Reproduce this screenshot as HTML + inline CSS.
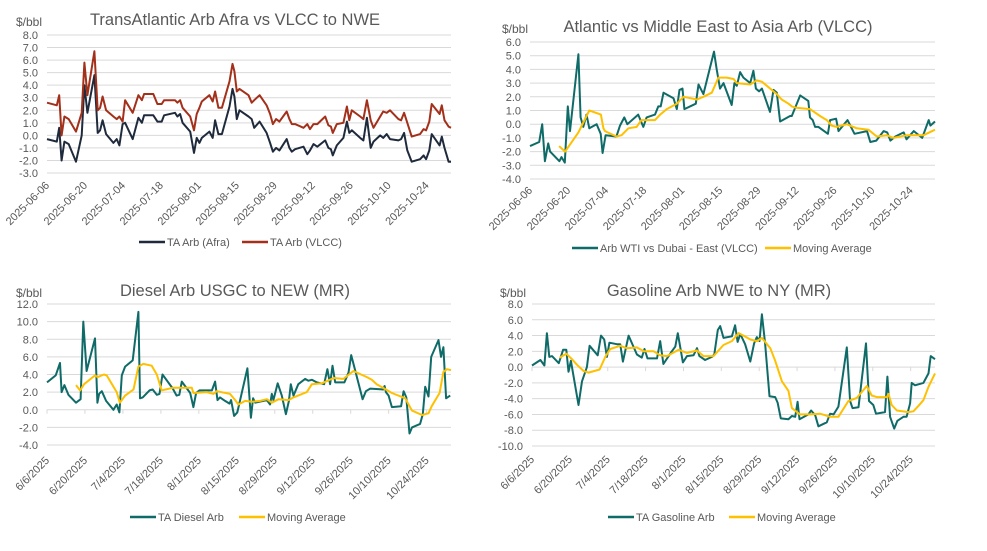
<!DOCTYPE html>
<html><head><meta charset="utf-8">
<style>
html,body{margin:0;padding:0;background:#fff;}
svg{display:block;font-family:"Liberation Sans",sans-serif;}
</style></head>
<body>
<svg id="root" width="987" height="551" viewBox="0 0 987 551"></svg>
<script>
// ---- Chart 1 data ----
const afraDays=[0,3.6,4.5,5.4,6.4,8,10.7,12.8,13.8,14.9,17.5,18.7,19.6,20.5,21.8,24.5,25.7,26.7,27.9,28.8,31.6,33.7,35,35.8,39.2,40.7,42.3,43.2,47.2,48.1,49.1,50,52.8,54.2,55.2,56.2,57.1,59.9,61.1,62,63.2,64.5,67.3,68.4,69.1,70,71,74.3,75.5,76.4,78.4,81,82.3,83.3,84.5,85.7,88.4,89.4,90.3,91.5,94.6,96,97,98.3,99.7,102.6,103.8,104.7,105.4,106.9,109.3,110.6,111.5,112.4,115.5,116.7,118,119.4,120.4,122.9,124,125.3,126.5,129.6,130.6,131.7,132.9,134.5,137.6,138.9,139.8,141,141.9,144.8,145.6,146.6,148.1,149];
const afraVals=[-0.3,-0.5,0.6,-2.0,-0.5,-0.7,-2.1,0.0,4.0,1.8,4.8,0.2,0.4,1.2,0.1,-0.6,-0.3,-0.8,0.9,1.0,-0.3,1.4,1.0,1.6,1.6,1.1,1.1,1.6,1.8,1.5,1.7,1.0,0.3,-1.4,-0.2,-0.6,-0.2,0.3,-0.2,1.2,0.1,0.1,2.3,3.7,3.1,1.3,2.0,1.5,1.3,0.6,1.1,0.2,-0.6,-1.3,-1.0,-1.2,-0.3,-1.0,-1.3,-1.1,-0.9,-1.5,-1.2,-0.7,-0.9,-0.4,-1.0,-1.1,-1.6,-0.8,-0.2,1.1,0.2,0.4,-0.2,-0.4,1.4,-1.0,-0.5,0.0,-0.2,0.1,-0.3,-0.4,-0.3,0.2,-1.2,-2.1,-1.9,-1.6,-1.9,-1.2,0.1,-0.8,-0.1,-1.0,-2.1,-2.1];
const vlccVals=[2.6,2.4,3.2,0.0,1.5,1.3,0.3,1.8,5.8,3.2,6.7,2.0,2.2,3.1,2.0,1.5,1.3,1.5,1.1,2.8,1.8,3.2,2.8,3.3,3.3,2.5,2.5,2.8,2.8,2.6,2.8,2.2,1.5,0.4,1.7,2.2,2.7,3.2,2.7,3.5,2.2,2.2,4.3,5.7,5.1,3.5,3.7,3.2,2.6,2.8,3.2,2.4,1.7,0.9,1.3,1.1,1.9,1.3,0.9,0.9,0.6,0.9,0.5,0.9,0.9,1.5,0.8,0.7,0.2,0.9,1.0,2.3,1.2,2.0,1.5,1.3,2.8,1.2,0.6,1.5,1.9,1.8,2.0,1.3,1.2,1.8,1.0,-0.1,0.1,0.5,0.4,1.1,2.5,1.7,2.4,1.2,0.7,0.6];
const ticks1=["8.0","7.0","6.0","5.0","4.0","3.0","2.0","1.0","0.0","-1.0","-2.0","-3.0"];
const dateLabelsIso=["2025-06-06","2025-06-20","2025-07-04","2025-07-18","2025-08-01","2025-08-15","2025-08-29","2025-09-12","2025-09-26","2025-10-10","2025-10-24"];
// ---- Chart 2 data ----
const wtiDays=[0,3.4,4.5,5.5,6.7,7.4,10.8,11.6,12.8,13.9,14.7,17.8,18.6,19.6,20.8,21.8,24.5,26,26.7,27.8,31.8,33.1,34.7,35.8,39.8,41.7,42.9,46,47.2,48.1,49.1,52.8,54,55,56.1,56.8,61,62,63.8,67.7,68.7,69.9,71.2,74.2,75.2,76.1,77.3,78.5,81,82.2,83.1,84.3,85.3,88.3,89.6,90.8,92,95.7,96.3,99.4,102.4,103,104,104.9,106.1,109.6,110.4,112.6,113.5,116.8,119.4,124,125.2,127.4,130.1,131.4,132.6,134.4,137.5,138.5,141.2,144.3,146.7,147.3,149];
const wtiVals=[-1.6,-1.3,0.0,-2.7,-1.4,-2.0,-2.7,-2.4,-2.8,1.3,-0.5,5.1,0.5,-0.2,0.7,-0.3,0.0,-0.7,-2.1,-0.8,-0.9,-0.1,0.5,0.0,0.7,-0.2,0.5,0.7,1.3,1.3,2.3,1.9,1.1,2.5,2.6,1.1,1.5,2.9,2.2,5.3,4.0,2.6,3.0,1.4,3.0,2.8,3.8,3.4,3.0,3.9,2.6,2.4,2.6,0.9,2.5,2.3,0.2,0.6,0.6,2.1,1.7,0.5,0.3,-0.2,-0.2,-0.7,0.3,0.4,-0.5,0.3,-0.7,-0.5,-1.3,-1.2,-0.5,-0.6,-1.2,-0.9,-0.6,-1.1,-0.5,-1.0,0.3,-0.1,0.2];
const wtiMaDays=[10.7,12.9,17.8,21.8,26.1,27,27.6,31.8,33.7,36.2,39.2,41,46,47.9,50.3,54,56.5,61.4,63.8,66.9,69.3,72.4,74.9,76.1,81,83.4,85.3,90.8,92.6,95.1,96.3,98.1,103,106.7,109.2,111,112.8,116.5,120.2,124.5,127.6,131.3,133.7,138.6,144.8,149];
const wtiMaVals=[-1.6,-2.0,-0.6,1.0,0.7,-0.3,-0.5,-0.9,-0.8,-0.3,-0.2,0.3,0.3,0.7,1.1,1.5,2.0,1.8,2.0,2.3,3.4,3.4,3.3,3.0,2.9,3.2,3.1,2.2,1.8,1.5,1.3,1.2,1.1,0.6,0.3,-0.1,-0.2,0.0,-0.3,-0.4,-0.9,-0.8,-1.0,-0.8,-0.8,-0.4];
const ticks2=["6.0","5.0","4.0","3.0","2.0","1.0","0.0","-1.0","-2.0","-3.0","-4.0"];
// ---- Chart 3 data ----
const dslDays=[0,3.2,4.8,5.4,6.4,7.9,10.7,12.4,13.4,14.6,17.7,18.6,19.2,20.2,21.8,24.5,25.7,26.7,27.6,28.8,31.6,33.7,34.3,35.3,37.8,39,40.5,41.5,42.6,46.4,47.8,48.8,49.7,52.8,54,55,56.2,60.8,62,62.9,63.8,65.7,67.3,67.9,69,70.2,73.9,75.2,76,76.8,81.1,82.3,82.9,83.5,85.1,86.6,88.1,89.2,89.9,90.9,92.7,95.2,96.4,97.7,99.5,102.2,103.4,104.4,105.3,106.3,109.7,111.2,112.2,113.3,116.4,117.6,119.2,124,124.5,125,126,127.2,130.6,131.5,132.5,133.7,134.6,137.6,138.6,139.5,140.7,141.7,144.4,145.3,146.2,147.2,148.7];
const dslVals=[3.1,3.9,5.3,2.0,2.8,1.7,0.8,1.2,10.0,4.4,8.1,0.8,1.8,2.1,1.0,0.0,0.6,-0.3,3.9,4.9,5.6,11.1,1.3,1.4,2.2,2.3,1.7,1.8,4.0,2.4,1.6,1.7,3.2,1.9,0.3,1.9,2.2,2.2,3.2,1.1,1.4,1.0,0.7,1.1,-0.7,-0.3,4.7,-0.9,1.3,0.8,1.1,0.6,1.8,1.1,3.0,1.6,-0.5,1.0,2.9,1.6,2.9,3.5,3.3,3.4,3.1,2.9,4.6,2.9,5.0,3.1,3.1,4.2,6.2,4.9,1.2,2.1,2.4,2.3,2.7,2.0,1.6,0.3,0.4,2.1,1.4,-2.7,-2.0,-1.6,-0.5,2.6,1.5,6.0,7.9,6.0,7.1,1.3,1.6];
const dslMaDays=[10.7,12.2,13.7,17.7,18.7,21,22,25.7,26.9,28.8,31.9,33.7,35.5,38.6,40.5,42.3,46.6,49.1,53.4,54,58.9,61.4,62.6,67.5,69.4,70.6,73.1,75.5,78.6,81.1,82.9,85.4,89.1,90.9,95.8,97.7,101.4,105.7,109.3,113,118,119.8,121.6,127.2,132.1,134.6,138.3,140.7,141.9,144.8,146.2,147.5,149];
const dslMaVals=[2.8,2.2,2.9,3.9,3.7,4.0,3.9,2.0,0.8,1.6,2.3,4.9,5.2,5.0,4.0,2.2,2.5,2.5,2.5,1.9,2.0,1.8,2.1,1.8,1.1,0.6,1.0,0.9,1.0,1.2,0.8,1.2,1.1,1.4,2.0,2.9,3.0,3.6,3.5,4.4,3.7,3.4,2.9,1.9,1.3,-0.1,-0.6,-0.4,0.4,1.9,4.3,4.6,4.5];
const ticks3=["12.0","10.0","8.0","6.0","4.0","2.0","0.0","-2.0","-4.0"];
const dateLabelsUs=["6/6/2025","6/20/2025","7/4/2025","7/18/2025","8/1/2025","8/15/2025","8/29/2025","9/12/2025","9/26/2025","10/10/2025","10/24/2025"];
// ---- Chart 4 data ----
const gasDays=[0,3.1,4.6,5.5,6.4,7.4,9.9,11.5,12.7,13.5,14.4,17.2,18.5,20.3,21.3,24.3,25.5,26.7,27.7,28.6,31.4,32.6,33.6,35.7,38.8,40.6,41.6,42.7,46.2,47.4,48.6,51.7,53,53.9,55.8,57.3,59.7,61,61.9,64,66.5,67.4,68.7,69.6,70.8,73.9,75.1,76,77,78.8,80.7,82.1,83.1,84.1,85,86.2,87.8,89.9,90.8,92,94.8,96.1,97.3,98.2,98.9,102.2,103.2,104.7,105.9,109,110.2,111.5,113.3,116.4,117.6,118.5,120.7,123.5,124.6,126.2,127.2,130.5,131.4,132.4,133.9,135.1,137.3,138.5,139.8,140.4,141.6,144.7,146.6,147.4,149];
const gasVals=[0.2,0.9,0.2,4.3,1.3,1.4,0.5,2.2,2.2,-0.6,0.8,-4.8,-1.8,0.0,2.7,1.5,4.0,3.5,1.3,3.1,2.9,2.9,0.7,4.0,1.6,1.2,2.3,1.1,1.1,3.3,0.4,2.0,2.6,4.3,0.6,1.4,1.5,2.4,1.4,0.9,1.3,1.6,4.7,5.2,3.7,3.9,5.3,3.2,4.2,2.9,0.7,3.0,3.8,3.3,6.7,3.0,-3.7,-3.8,-4.5,-6.5,-6.6,-6.2,-6.3,-4.4,-6.6,-6.0,-5.5,-6.1,-7.5,-7.0,-5.9,-6.0,-5.0,2.5,-4.3,-5.2,-5.1,3.0,-4.3,-4.8,-5.9,-5.7,-1.2,-6.3,-7.8,-6.8,-6.3,-6.3,-4.6,-2.0,-2.3,-2.0,-0.8,1.4,1.0];
const gasMaDays=[10.2,12.7,14.8,16.6,19.1,20.9,25,27.1,28.9,32.6,35.1,38.8,41.3,45,47.4,49.9,54.2,57.3,61,63.4,67.1,70.8,73.9,76.4,78.2,80.7,83.1,85,88.1,89.9,92.4,94.8,96.1,99.1,102.8,106.5,110.2,113.3,117,120.1,123.8,125.6,127.5,131.2,131.8,133,134.9,139.2,141,142.9,144.7,146.6,149];
const gasMaVals=[1.2,1.7,1.0,0.3,-0.5,-0.7,-0.3,1.3,2.3,2.7,2.4,2.5,2.0,2.0,1.5,1.4,2.2,1.8,2.1,1.4,1.4,2.8,3.3,4.3,4.0,3.5,3.3,3.7,2.4,0.8,-1.8,-3.0,-5.2,-6.0,-6.0,-5.9,-6.3,-6.3,-4.3,-3.9,-2.4,-3.6,-3.8,-3.8,-3.4,-4.8,-5.5,-5.7,-5.6,-4.9,-4.2,-2.5,-0.8];
const ticks4=["8.0","6.0","4.0","2.0","0.0","-2.0","-4.0","-6.0","-8.0","-10.0"];
const labelDays=[0,14,28,42,56,70,84,98,112,126,140];

const NS="http://www.w3.org/2000/svg";
const root=document.getElementById('root');
function mk(tag,attrs,parent){const e=document.createElementNS(NS,tag);for(const k in attrs)e.setAttribute(k,attrs[k]);(parent||root).appendChild(e);return e;}

function chart(cfg){
  const g=mk('g',{});
  
  
  const x=d=>cfg.x0+(d-0)/(149)*(cfg.x1-cfg.x0);
  const y=v=>cfg.y0+(cfg.vmax-v)/(cfg.vmax-cfg.vmin)*(cfg.y1-cfg.y0);
  const t=mk('text',{x:cfg.titleX,y:cfg.titleY,'text-anchor':'middle','font-size':16.5,fill:'#595959'},g);t.textContent=cfg.title;
  
  
  const u=mk('text',{x:cfg.unitX,y:cfg.titleY+1,'font-size':12,fill:'#595959'},g);u.textContent='$/bbl';
  
  
  cfg.ticks.forEach(s=>{const v=parseFloat(s);
    const l=mk('line',{x1:cfg.x0,x2:cfg.x1,y1:y(v),y2:y(v),stroke:'#d9d9d9','stroke-width':1},g);
    
    
    const tt=mk('text',{x:cfg.x0-9,y:y(v)+4,'text-anchor':'end','font-size':11,fill:'#595959'},g);tt.textContent=s;
    
    
  });
  labelDays.forEach((d,i)=>{
    if(cfg.zeroTicks){const tk=mk('line',{x1:x(d),x2:x(d),y1:y(0),y2:y(0)+4,stroke:'#d9d9d9'},g);
      
      }
    const lx=x(d)+3,ly=cfg.labelY;
    const tt=mk('text',{x:lx,y:ly,'text-anchor':'end','font-size':11,fill:'#595959',transform:`rotate(-45 ${lx} ${ly})`},g);
    tt.textContent=cfg.labels[i];
    
    
  });
  cfg.series.forEach(s=>{
    const pts=s.days.map((d,i)=>x(d).toFixed(1)+','+y(s.vals[i]).toFixed(1)).join(' ');
    const p=mk('polyline',{points:pts,fill:'none',stroke:s.color,'stroke-width':2,'stroke-linejoin':'round'},g);
    
    
  });
  cfg.legend.forEach(L=>{
    const lg=mk('g',{},g);
    
    
    mk('line',{x1:L.x,x2:L.x+26,y1:cfg.legY,y2:cfg.legY,stroke:L.color,'stroke-width':2.5},lg);
    const tt=mk('text',{x:L.x+28,y:cfg.legY+4,'font-size':11,fill:'#595959'},lg);tt.textContent=L.text;
  });
}

chart({name:'chart-transatlantic-arb',title:'TransAtlantic Arb Afra vs VLCC to NWE',titleX:235,titleY:25,unitX:16,
  x0:47,x1:451,y0:35,y1:173,vmax:8,vmin:-3,ticks:ticks1,labels:dateLabelsIso,labelY:186,zeroTicks:false,
  series:[{name:'line-ta-arb-afra',days:afraDays,vals:afraVals,color:'#1f2b3c'},{name:'line-ta-arb-vlcc',days:afraDays,vals:vlccVals,color:'#a3301a'}],
  legY:242,legend:[{x:139,color:'#1f2b3c',text:'TA Arb (Afra)'},{x:242,color:'#a3301a',text:'TA Arb (VLCC)'}]});

chart({name:'chart-atlantic-vs-middle-east',title:'Atlantic vs Middle East to Asia Arb (VLCC)',titleX:718,titleY:32,unitX:502,
  x0:530,x1:935,y0:42,y1:179,vmax:6,vmin:-4,ticks:ticks2,labels:dateLabelsIso,labelY:191,zeroTicks:false,
  series:[{name:'line-arb-wti-dubai',days:wtiDays,vals:wtiVals,color:'#0f6b68'},{name:'line-moving-average',days:wtiMaDays,vals:wtiMaVals,color:'#ffc000'}],
  legY:248,legend:[{x:572,color:'#0f6b68',text:'Arb WTI vs Dubai - East (VLCC)'},{x:765,color:'#ffc000',text:'Moving Average'}]});

chart({name:'chart-diesel-arb',title:'Diesel Arb USGC to NEW (MR)',titleX:235,titleY:296,unitX:16,
  x0:47,x1:451,y0:304,y1:445,vmax:12,vmin:-4,ticks:ticks3,labels:dateLabelsUs,labelY:461,zeroTicks:true,
  series:[{name:'line-ta-diesel-arb',days:dslDays,vals:dslVals,color:'#0f6b68'},{name:'line-moving-average',days:dslMaDays,vals:dslMaVals,color:'#ffc000'}],
  legY:517,legend:[{x:130,color:'#0f6b68',text:'TA Diesel Arb'},{x:239,color:'#ffc000',text:'Moving Average'}]});

chart({name:'chart-gasoline-arb',title:'Gasoline Arb NWE to NY (MR)',titleX:719,titleY:296,unitX:500,
  x0:532,x1:935,y0:304,y1:446,vmax:8,vmin:-10,ticks:ticks4,labels:dateLabelsUs,labelY:460,zeroTicks:true,
  series:[{name:'line-ta-gasoline-arb',days:gasDays,vals:gasVals,color:'#0f6b68'},{name:'line-moving-average',days:gasMaDays,vals:gasMaVals,color:'#ffc000'}],
  legY:517,legend:[{x:608,color:'#0f6b68',text:'TA Gasoline Arb'},{x:729,color:'#ffc000',text:'Moving Average'}]});
</script>
</body></html>
